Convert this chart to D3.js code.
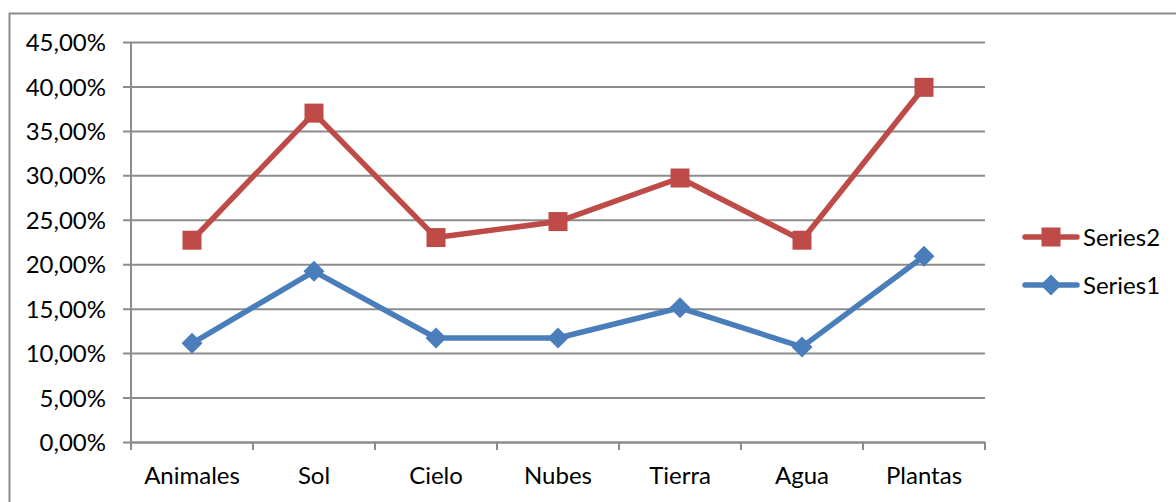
<!DOCTYPE html>
<html>
<head>
<meta charset="utf-8">
<script src="https://cdn.jsdelivr.net/npm/d3@7"></script>
<style>
  html, body { margin: 0; padding: 0; background: #fff; }
  svg { display: block; }
  text { font-family: Lato, "Open Sans", sans-serif; fill: #000; }
</style>
</head>
<body>
<svg id="chart" width="1176" height="502"></svg>
<script>
// Categories and percentage values for each series
const categories = ["Animales", "Sol", "Cielo", "Nubes", "Tierra", "Agua", "Plantas"];
const series1 = [0.111, 0.192, 0.117, 0.117, 0.151, 0.107, 0.209];
const series2 = [0.227, 0.370, 0.230, 0.248, 0.297, 0.227, 0.399];
const yTicks = [0, 0.05, 0.10, 0.15, 0.20, 0.25, 0.30, 0.35, 0.40, 0.45];
const seriesNames = ["Series2", "Series1"];

const W = 1176, H = 502;
const plot = { left: 131, right: 985, top: 42, bottom: 442 };
const fontSize = "24px";
const svg = d3.select("#chart");

// Outer chart frame
svg.append("rect")
  .attr("x", 9.5).attr("y", 13.5)
  .attr("width", W + 20).attr("height", H + 20)
  .attr("fill", "none").attr("stroke", "#8c8c8c").attr("stroke-width", 2);

const x = d3.scaleBand().domain(categories).range([plot.left, plot.right]);
const y = d3.scaleLinear().domain([0, 0.45]).range([plot.bottom, plot.top]);

const fmt = v => d3.format(".2f")(v * 100).replace(".", ",") + "%";

// Horizontal gridlines with outward ticks and labels
const yAxis = d3.axisLeft(y)
  .tickValues(yTicks)
  .tickFormat(fmt)
  .tickSize(-(plot.right - plot.left))
  .tickSizeOuter(0);
const gy = svg.append("g").attr("transform", `translate(${plot.left},0)`).call(yAxis);
gy.selectAll(".tick line").attr("stroke", "#8c8c8c").attr("stroke-width", 2).attr("x1", -8);
gy.selectAll(".tick text").style("font-size", fontSize).attr("x", -25).attr("dy", "0.36em");

// Category axis
const xAxis = d3.axisBottom(x).tickSize(0).tickSizeOuter(0);
const gx = svg.append("g").attr("transform", `translate(0,${plot.bottom})`).call(xAxis);
gx.select(".domain").attr("stroke", "#8c8c8c").attr("stroke-width", 2);
gx.selectAll(".tick text").style("font-size", fontSize).attr("y", 42).attr("dy", 0);
// Tick marks on the category boundaries
const bounds = categories.map(c => x(c)).concat([plot.right]);
gx.selectAll(".bound").data(bounds).enter().append("line")
  .attr("x1", d => d).attr("x2", d => d)
  .attr("y1", 0).attr("y2", 8)
  .attr("stroke", "#8c8c8c").attr("stroke-width", 2);
// Vertical axis reaches down to the tick length
gy.select(".domain")
  .attr("d", `M0,${plot.top}V${plot.bottom + 8}`)
  .attr("stroke", "#8c8c8c").attr("stroke-width", 2);

const cx = c => x(c) + x.bandwidth() / 2;
const line = d3.line().x((d, i) => cx(categories[i])).y(d => y(d));

const colors = { Series1: "#4a7ebb", Series2: "#be4b48" };
const markerSquare = d3.symbol().type(d3.symbolSquare).size(19 * 19);
const markerDiamond = (g) => g.append("path").attr("d", "M0,-10.5L10.5,0L0,10.5L-10.5,0Z");

function drawSeries(data, name, shape) {
  const g = svg.append("g");
  g.append("path").datum(data)
    .attr("d", line).attr("fill", "none")
    .attr("stroke", colors[name]).attr("stroke-width", 5.5)
    .attr("stroke-linejoin", "round").attr("stroke-linecap", "round");
  g.selectAll(".pt").data(data).enter().append("g")
    .attr("transform", (d, i) => `translate(${cx(categories[i])},${y(d)})`)
    .each(function () {
      const m = d3.select(this);
      if (shape === "square") m.append("path").attr("d", markerSquare());
      else markerDiamond(m);
      m.select("path").attr("fill", colors[name]);
    });
}
drawSeries(series1, "Series1", "diamond");
drawSeries(series2, "Series2", "square");

// Legend
const legend = svg.append("g");
seriesNames.forEach((name, i) => {
  const ly = 237 + i * 48;
  const g = legend.append("g").attr("transform", `translate(1051,${ly})`);
  g.append("line").attr("x1", -26).attr("x2", 26)
    .attr("stroke", colors[name]).attr("stroke-width", 5.5).attr("stroke-linecap", "round");
  if (name === "Series2") g.append("path").attr("d", markerSquare()).attr("fill", colors[name]);
  else markerDiamond(g).attr("fill", colors[name]);
  g.append("text").attr("x", 32).attr("dy", "0.36em")
    .style("font-size", fontSize).text(name);
});
</script>
</body>
</html>
